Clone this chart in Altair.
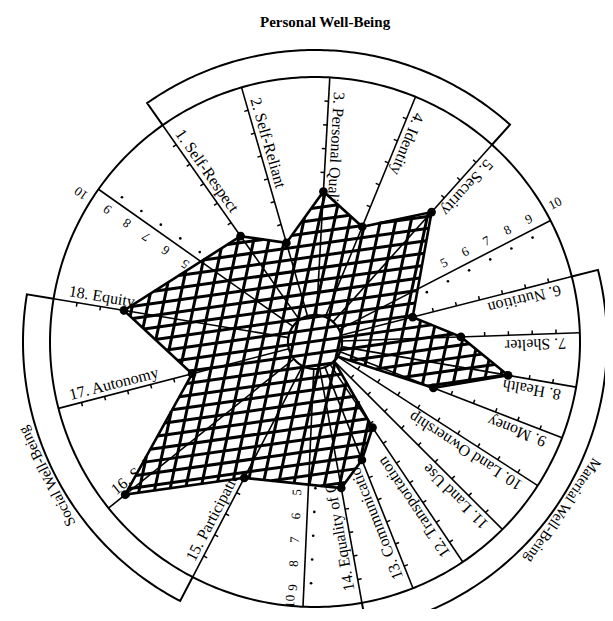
import math
import numpy as np
import pandas as pd
import altair as alt

# ---------------- data ----------------
spoke_labels = [
    "1. Self-Respect", "2. Self-Reliant", "3. Personal Quality", "4. Identity",
    "5. Security", "6. Nutrition", "7. Shelter", "8. Health", "9. Money",
    "10. Land Ownership", "11. Land Use", "12. Transportation",
    "13. Communications", "14. Equality of Opportunity", "15. Participation",
    "16. Solidarity", "17. Autonomy", "18. Equity",
]
# direction of each spoke, degrees clockwise from straight up
spoke_angles = [-35.1, -16.1, 3.2, 22.3, 41.9, 75.7, 88.0, 99.8, 111.2,
                122.8, 135.0, 146.1, 158.3, 169.8, 207.5, 231.2, 255.5, 279.4]
scores = [4.3, 3.2, 5.2, 4.1, 6.2, 3.1, 5.0, 7.1, 4.2,
          0.0, 0.0, 3.2, 4.2, 5.1, 5.3, 9.1, 4.2, 7.0]

scale_axis_angles = [62.7, 182.6, 305.2]
scale_values = [5, 6, 7, 8, 9, 10]
tick_values = [1, 2, 3, 4, 5, 6, 7, 8, 9]

group_names = ["Personal Well-Being", "Material Well-Being", "Social Well-Being"]
group_first_spoke = [1, 6, 15]
group_last_spoke = [5, 14, 18]
group_label_angles = [1.8, 124.2, 243.4]

# ---------------- geometry helpers ----------------
PX = 23.8                 # pixels per score unit
HUB = 27 / PX             # radius of the small central circle
R_CIRC = HUB + 10         # the score-10 circle
R_BAND = 292 / PX         # outer edge of the group bands
W, H = 597, 601
CX, CY = 307, 334         # centre inside the plot area (pixels)


def pol(r, th):
    t = math.radians(th)
    return r * math.sin(t), r * math.cos(t)


def cw(th):   # clockwise perpendicular (y-up coordinates)
    t = math.radians(th)
    return math.cos(t), -math.sin(t)


def r_of(v):
    return HUB + v


xs = alt.Scale(domain=[-CX / PX, (W - CX) / PX], nice=False, zero=False)
ys = alt.Scale(domain=[-(H - CY) / PX, CY / PX], nice=False, zero=False)
X = alt.X("x:Q", scale=xs, axis=None)
Y = alt.Y("y:Q", scale=ys, axis=None)

# ---------------- outline circles and bands ----------------
circ_df = pd.DataFrame([dict(i=i, x=pol(R_CIRC, a)[0], y=pol(R_CIRC, a)[1])
                        for i, a in enumerate(np.arange(0, 361, 1.0))])
hub_df = pd.DataFrame([dict(i=i, x=pol(HUB, a)[0], y=pol(HUB, a)[1])
                       for i, a in enumerate(np.arange(0, 361, 2.0))])

band_rows = []
for gi, (f, l) in enumerate(zip(group_first_spoke, group_last_spoke)):
    a1, a2 = spoke_angles[f - 1], spoke_angles[l - 1]
    pts = [pol(R_CIRC, a1)]
    for a in np.linspace(a1, a2, 120):
        pts.append(pol(R_BAND, a))
    pts.append(pol(R_CIRC, a2))
    for k, (x, y) in enumerate(pts):
        band_rows.append(dict(g=gi, i=k, x=x, y=y))
band_df = pd.DataFrame(band_rows)

# ---------------- spokes ----------------
sp_rows = []
for th in spoke_angles + scale_axis_angles:
    x, y = pol(HUB, th)
    x2, y2 = pol(R_CIRC, th)
    sp_rows.append(dict(x=x, y=y, x2=x2, y2=y2))
spoke_df = pd.DataFrame(sp_rows)

tick_rows = []
for th in spoke_angles:
    px_, py_ = cw(th)
    for v in tick_values:
        x, y = pol(r_of(v), th)
        tick_rows.append(dict(x=x, y=y, x2=x - px_ * 4 / PX, y2=y - py_ * 4 / PX))
tick_df = pd.DataFrame(tick_rows)

lab_rows = []
for lab, th in zip(spoke_labels, spoke_angles):
    x, y = pol(251 / PX, th)
    px_, py_ = cw(th)
    lab_rows.append(dict(x=x + px_ * 5 / PX, y=y + py_ * 5 / PX, t=lab,
                         rot=(th + 90) % 360))
lab_df = pd.DataFrame(lab_rows)

# ---------------- scale axes ----------------
y_floor = -(H - CY - 7) / PX      # keep digit centres inside the picture
dig_rows, sdot_rows = [], []
for th in scale_axis_angles:
    side = 1 if 90 < (th % 360) < 270 else -1      # +1 clockwise side
    rot = (th + 90 * side) % 360
    px_, py_ = cw(th)
    for v in scale_values:
        extra = 12 if v == 10 else 5
        r = r_of(v) + extra / PX
        x, y = pol(r, th)
        if y < y_floor:
            r = y_floor / math.cos(math.radians(th))
            x, y = pol(r, th)
        off = (13 if v == 10 else 11) / PX
        dig_rows.append(dict(x=x + side * px_ * off, y=y + side * py_ * off,
                             t=str(v), rot=rot))
    for v in tick_values:
        x, y = pol(r_of(v), th)
        sdot_rows.append(dict(x=x - side * px_ * 7 / PX, y=y - side * py_ * 7 / PX))
dig_df = pd.DataFrame(dig_rows)
sdot_df = pd.DataFrame(sdot_rows)

# ---------------- group labels ----------------
g_rows = []
for name, th in zip(group_names, group_label_angles):
    top = abs(th) < 5
    r = (320 if top else 300) / PX
    x, y = pol(r, th)
    g_rows.append(dict(x=x, y=y, t=name, rot=(0 if top else th) % 360, bold=top))
g_df = pd.DataFrame(g_rows)

# ---------------- score polygon ----------------
poly = np.array([pol(r_of(s), th) for s, th in zip(scores, spoke_angles)])
poly_df = pd.DataFrame(dict(x=list(poly[:, 0]) + [poly[0, 0]],
                            y=list(poly[:, 1]) + [poly[0, 1]],
                            i=list(range(len(poly) + 1))))
dot_df = pd.DataFrame([dict(x=p[0], y=p[1]) for p, s in zip(poly, scores) if s > 0])


def hatch(poly, ang, spacing, phase):
    a = math.radians(ang)
    d = np.array([math.cos(a), math.sin(a)])
    n = np.array([-math.sin(a), math.cos(a)])
    pn = poly @ n
    out = []
    c = pn.min() + phase
    N = len(poly)
    while c < pn.max():
        ts = []
        for k in range(N):
            p, q = poly[k], poly[(k + 1) % N]
            sp, sq = p @ n - c, q @ n - c
            if (sp < 0) != (sq < 0):
                t = sp / (sp - sq)
                pt = p + t * (q - p)
                ts.append(pt @ d)
        ts.sort()
        for j in range(0, len(ts) - 1, 2):
            a1 = c * n + ts[j] * d
            a2 = c * n + ts[j + 1] * d
            out.append(dict(x=a1[0], y=a1[1], x2=a2[0], y2=a2[1]))
        c += spacing
    return out


hatch_df = pd.DataFrame(hatch(poly, 8, 12 / PX, 5 / PX) + hatch(poly, 78, 15 / PX, 7 / PX))

# ---------------- layers ----------------
FONT = "Liberation Serif"

bands = alt.Chart(band_df).mark_line(color="black", strokeWidth=2).encode(
    X, Y, detail="g:N", order="i:Q")
circle = alt.Chart(circ_df).mark_line(color="black", strokeWidth=2).encode(X, Y, order="i:Q")
labels = alt.Chart(lab_df).mark_text(font=FONT, fontSize=16, align="left",
                                     baseline="alphabetic", color="black").encode(
    X, Y, text="t:N", angle=alt.Angle("rot:Q", scale=None))
ticks = alt.Chart(tick_df).mark_rule(color="black", strokeWidth=1.5).encode(
    X, Y, x2="x2:Q", y2="y2:Q")
digits = alt.Chart(dig_df).mark_text(font=FONT, fontSize=13, align="center",
                                     baseline="middle", color="black").encode(
    X, Y, text="t:N", angle=alt.Angle("rot:Q", scale=None))
sdots = alt.Chart(sdot_df).mark_circle(color="black", size=7, opacity=1).encode(X, Y)
glab_b = alt.Chart(g_df[g_df.bold]).mark_text(font=FONT, fontSize=15, fontWeight="bold",
                                              align="center", baseline="middle",
                                              color="black").encode(
    X, Y, text="t:N", angle=alt.Angle("rot:Q", scale=None))
glab_r = alt.Chart(g_df[~g_df.bold]).mark_text(font=FONT, fontSize=15,
                                               align="center", baseline="middle",
                                               color="black").encode(
    X, Y, text="t:N", angle=alt.Angle("rot:Q", scale=None))
poly_fill = alt.Chart(poly_df).mark_line(fill="white", strokeWidth=0).encode(X, Y, order="i:Q")
spokes = alt.Chart(spoke_df).mark_rule(color="black", strokeWidth=1.6).encode(
    X, Y, x2="x2:Q", y2="y2:Q")
hatching = alt.Chart(hatch_df).mark_rule(color="black", strokeWidth=3).encode(
    X, Y, x2="x2:Q", y2="y2:Q")
outline = alt.Chart(poly_df).mark_line(color="black", strokeWidth=2.6).encode(X, Y, order="i:Q")
hub = alt.Chart(hub_df).mark_line(color="black", strokeWidth=2.2).encode(X, Y, order="i:Q")
dots = alt.Chart(dot_df).mark_circle(color="black", size=75, opacity=1).encode(X, Y)

chart = alt.layer(
    bands, circle, labels, ticks, digits, sdots, glab_b, glab_r,
    poly_fill, spokes, hatching, outline, hub, dots
).properties(
    width=W, height=H, padding=0,
    autosize=alt.AutoSizeParams(type="none")
).configure_view(strokeWidth=0)

chart.save("out.html", embed_options={"renderer": "svg", "actions": False})
